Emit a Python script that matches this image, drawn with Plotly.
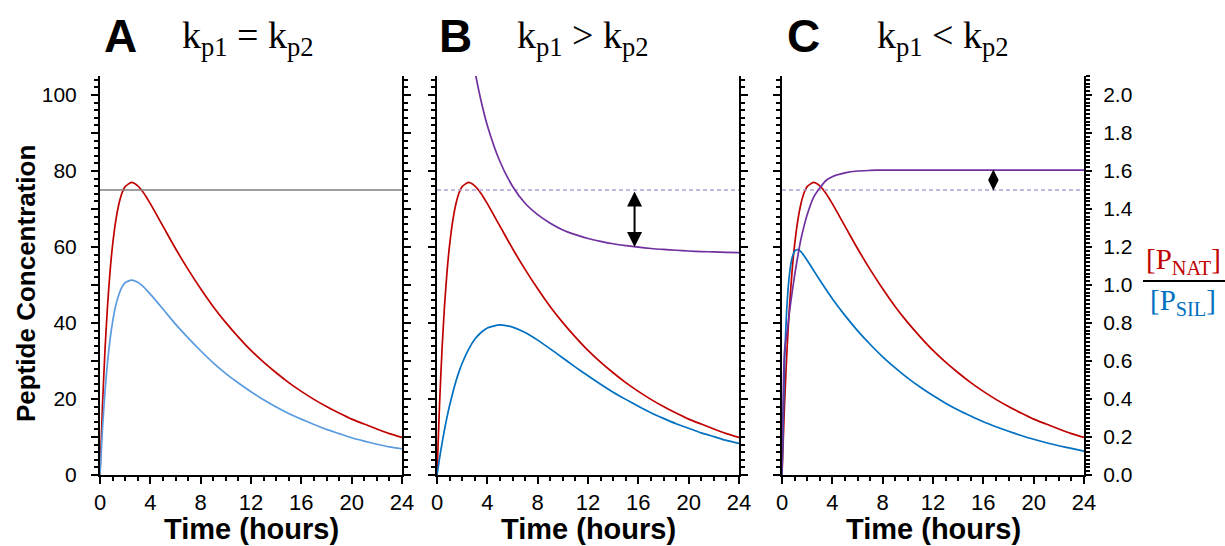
import plotly.graph_objects as go

# ---------------- data ----------------
time_h = [0, 0.2, 0.4, 0.6, 0.8, 1, 1.25, 1.5, 1.75, 2, 2.5, 3, 3.5, 4, 5, 6, 7, 8, 9,
          10, 11, 12, 13, 14, 15, 16, 17, 18, 19, 20, 21, 22, 23, 24]

nat_conc = [0, 18.5, 33.1, 44.6, 53.6, 60.5, 66.9, 71.3, 74.2, 75.9, 77.0, 76.1, 74.1, 71.4,
            65.5, 59.6, 54.1, 49.0, 44.3, 40.1, 36.3, 32.8, 29.7, 26.9, 24.3, 22.0, 19.9,
            18.0, 16.3, 14.7, 13.4, 12.1, 10.9, 9.9]

sil_conc_A = [0, 12.3, 22.1, 29.7, 35.7, 40.3, 44.6, 47.5, 49.5, 50.6, 51.3, 50.7, 49.4, 47.6,
              43.7, 39.7, 36.1, 32.7, 29.5, 26.7, 24.2, 21.9, 19.8, 17.9, 16.2, 14.7, 13.3,
              12.0, 10.9, 9.8, 8.9, 8.1, 7.4, 6.9]

sil_conc_B = [0, 4.4, 8.3, 12.0, 15.3, 18.3, 21.6, 24.6, 27.2, 29.4, 33.0, 35.7, 37.5, 38.7,
              39.5, 38.9, 37.5, 35.5, 33.2, 30.8, 28.4, 26.1, 23.9, 21.8, 19.9, 18.1, 16.4,
              14.9, 13.5, 12.3, 11.1, 10.1, 9.1, 8.3]

sil_conc_C = [0, 29.0, 44.9, 53.0, 57.1, 58.9, 59.3, 58.8, 57.7, 56.5, 53.9, 51.3, 48.8, 46.4,
              42.0, 38.0, 34.4, 31.1, 28.2, 25.5, 23.1, 20.9, 18.9, 17.1, 15.5, 14.0, 12.7,
              11.5, 10.4, 9.4, 8.5, 7.7, 7.0, 6.3]

ratio_B = [4.5, 4.2, 3.99, 3.72, 3.5, 3.31, 3.1, 2.9, 2.73, 2.58, 2.33, 2.13, 1.97, 1.84,
           1.65, 1.52, 1.43, 1.37, 1.325, 1.29, 1.265, 1.245, 1.23, 1.217, 1.207, 1.199,
           1.192, 1.187, 1.183, 1.179, 1.176, 1.174, 1.172, 1.17]

ratio_C = [0, 0.65, 0.75, 0.86, 0.96, 1.05, 1.15, 1.24, 1.31, 1.37, 1.46, 1.51, 1.55, 1.57,
           1.59, 1.60, 1.603, 1.605, 1.605, 1.605, 1.605, 1.605, 1.605, 1.605, 1.605, 1.605,
           1.605, 1.605, 1.605, 1.605, 1.605, 1.605, 1.605, 1.605]

ratio_ref = 1.5          # constant ratio (panel A line, dashed reference in B and C)
x_span = [0, 24]

arrow_B_time, arrow_B_lo, arrow_B_hi = 15.7, 1.2, 1.5
arrow_C_time, arrow_C_lo, arrow_C_hi = 16.8, 1.5, 1.605

conc_ticks = [0, 10, 20, 30, 40, 50, 60, 70, 80, 90, 100]
conc_labels = ["0", "", "20", "", "40", "", "60", "", "80", "", "100"]

# ---------------- style ----------------
RED = "#C00000"
BLUE_A = "#5B9BE0"
BLUE = "#0070C0"
PURPLE = "#7030A0"
LAVENDER = "#B3A1D6"
GRAY = "#7F7F7F"
SANS = "Liberation Sans, Arial, sans-serif"
SERIF = "Liberation Serif, Times New Roman, serif"

W, H = 1225, 546
# plot area in reference pixels: left 100, right 1084, top 76, bottom 475
ML, MT = 100, 76
MR = W - 1084
MB = H - 475
PW, PH = W - ML - MR, H - MT - MB


def px(xp):
    return (xp - ML) / PW


def py(yp):
    return (H - MB - yp) / PH


fig = go.Figure()
lw = 1.7
spl = dict(shape="spline", smoothing=0.6)

# Panel A
fig.add_trace(go.Scatter(x=time_h, y=nat_conc, mode="lines", line=dict(color=RED, width=lw, **spl), xaxis="x", yaxis="y"))
fig.add_trace(go.Scatter(x=time_h, y=sil_conc_A, mode="lines", line=dict(color=BLUE_A, width=lw, **spl), xaxis="x", yaxis="y"))
fig.add_trace(go.Scatter(x=x_span, y=[ratio_ref, ratio_ref], mode="lines", line=dict(color=GRAY, width=1.4), xaxis="x", yaxis="y4"))

# Panel B
fig.add_trace(go.Scatter(x=time_h, y=nat_conc, mode="lines", line=dict(color=RED, width=lw, **spl), xaxis="x2", yaxis="y2"))
fig.add_trace(go.Scatter(x=time_h, y=sil_conc_B, mode="lines", line=dict(color=BLUE, width=lw, **spl), xaxis="x2", yaxis="y2"))
fig.add_trace(go.Scatter(x=x_span, y=[ratio_ref, ratio_ref], mode="lines", line=dict(color=LAVENDER, width=1.4, dash="4px,3px"), xaxis="x2", yaxis="y5"))
fig.add_trace(go.Scatter(x=time_h, y=ratio_B, mode="lines", line=dict(color=PURPLE, width=lw, **spl), xaxis="x2", yaxis="y5"))

# Panel C
fig.add_trace(go.Scatter(x=time_h, y=nat_conc, mode="lines", line=dict(color=RED, width=lw, **spl), xaxis="x3", yaxis="y3"))
fig.add_trace(go.Scatter(x=time_h, y=sil_conc_C, mode="lines", line=dict(color=BLUE, width=lw, **spl), xaxis="x3", yaxis="y3"))
fig.add_trace(go.Scatter(x=x_span, y=[ratio_ref, ratio_ref], mode="lines", line=dict(color=LAVENDER, width=1.4, dash="4px,3px"), xaxis="x3", yaxis="y6"))
fig.add_trace(go.Scatter(x=time_h, y=ratio_C, mode="lines", line=dict(color=PURPLE, width=lw, **spl), xaxis="x3", yaxis="y6"))
# diamond-shaped double arrow between the reference ratio and the plateau (panel C)
fig.add_trace(go.Scatter(x=[arrow_C_time], y=[(arrow_C_lo + arrow_C_hi) / 2], mode="markers",
                         marker=dict(symbol="diamond-tall", size=15, color="black", line=dict(width=0)),
                         xaxis="x3", yaxis="y6"))

tickfont_x = dict(family=SANS, size=22, color="black")
tickfont_y = dict(family=SANS, size=21, color="black")

xbase = dict(range=[0, 24], showline=True, linecolor="black", linewidth=2, mirror=False,
             ticks="outside", ticklen=7, tickwidth=2, tickcolor="black", tickmode="linear",
             tick0=0, dtick=4, showgrid=False, zeroline=False, tickfont=tickfont_x,
             ticklabelstandoff=0,
             minor=dict(tickmode="linear", tick0=0, dtick=1, ticks="outside", ticklen=4,
                        tickwidth=2, tickcolor="black", showgrid=False))

ybase = dict(range=[0, 105], showline=True, linecolor="black", linewidth=2,
             ticks="outside", ticklen=7, tickwidth=2, tickcolor="black",
             tickmode="array", tickvals=conc_ticks, ticktext=conc_labels,
             showgrid=False, zeroline=False, tickfont=tickfont_y, ticklabelstandoff=10,
             minor=dict(tickmode="linear", tick0=0, dtick=2, ticks="outside", ticklen=4,
                        tickwidth=2, tickcolor="black", showgrid=False))

doms = [[px(100), px(402)], [px(437), px(739)], [px(782), px(1084)]]

layout = dict(
    width=W, height=H, margin=dict(l=ML, r=MR, t=MT, b=MB),
    paper_bgcolor="white", plot_bgcolor="white", showlegend=False,
    xaxis=dict(xbase, domain=doms[0], anchor="y"),
    xaxis2=dict(xbase, domain=doms[1], anchor="y2"),
    xaxis3=dict(xbase, domain=doms[2], anchor="y3"),
    yaxis=dict(ybase, domain=[0, 1], anchor="x", mirror="ticks"),
    yaxis2=dict(ybase, domain=[0, 1], anchor="x2", mirror="ticks", showticklabels=False),
    yaxis3=dict(ybase, domain=[0, 1], anchor="x3", mirror=False, showticklabels=False),
    yaxis4=dict(range=[0, 2.1], overlaying="y", anchor="x", visible=False),
    yaxis5=dict(range=[0, 2.1], overlaying="y2", anchor="x2", visible=False),
    yaxis6=dict(range=[0, 2.1], overlaying="y3", anchor="x3", side="right",
                showline=True, linecolor="black", linewidth=2, ticks="outside", ticklen=6,
                tickwidth=2, tickcolor="black", tickmode="linear", tick0=0, dtick=0.2,
                tickformat=".1f", showgrid=False, zeroline=False, tickfont=tickfont_y,
                ticklabelstandoff=7,
                minor=dict(tickmode="linear", tick0=0, dtick=0.02, ticks="outside", ticklen=4,
                           tickwidth=2, tickcolor="black", showgrid=False)),
)
fig.update_layout(**layout)

ann = []
# panel letters and conditions
for letter, cx, tx, cond in [("A", 120, 180, "="), ("B", 455, 515, "&gt;"), ("C", 803, 875, "&lt;")]:
    ann.append(dict(text="<b>%s</b>" % letter, x=px(cx), y=py(36), xref="paper", yref="paper",
                    xanchor="center", yanchor="middle", showarrow=False,
                    font=dict(family=SANS, size=46, color="black")))
    ann.append(dict(text="k<sub>p1</sub> %s k<sub>p2</sub>" % cond, x=px(tx), y=py(38),
                    xref="paper", yref="paper", xanchor="left", yanchor="middle", showarrow=False,
                    font=dict(family=SERIF, size=38, color="black")))
# x titles
for cx in [251, 588, 933]:
    ann.append(dict(text="<b>Time (hours)</b>", x=px(cx), y=py(529), xref="paper", yref="paper",
                    xanchor="center", yanchor="middle", showarrow=False,
                    font=dict(family=SANS, size=29, color="black")))
# y title
ann.append(dict(text="<b>Peptide Concentration</b>", x=px(26), y=py(284), xref="paper", yref="paper",
                xanchor="center", yanchor="middle", showarrow=False, textangle=-90,
                font=dict(family=SANS, size=26, color="black")))
# ratio label
ann.append(dict(text="[P<sub>NAT</sub>]", x=px(1183), y=py(261), xref="paper", yref="paper",
                xanchor="center", yanchor="middle", showarrow=False,
                font=dict(family=SERIF, size=29, color=RED)))
ann.append(dict(text="[P<sub>SIL</sub>]", x=px(1183), y=py(302), xref="paper", yref="paper",
                xanchor="center", yanchor="middle", showarrow=False,
                font=dict(family=SERIF, size=29, color=BLUE)))
# double arrow (panel B)
ann.append(dict(x=arrow_B_time, y=arrow_B_lo, ax=arrow_B_time, ay=arrow_B_hi, xref="x2", yref="y5",
                axref="x2", ayref="y5", text="", showarrow=True, arrowside="end+start",
                arrowhead=2, startarrowhead=2, arrowsize=1.5, startarrowsize=1.5, arrowwidth=2,
                arrowcolor="black", standoff=0, startstandoff=0))
fig.update_layout(annotations=ann)

fig.add_shape(type="line", xref="paper", yref="paper", x0=px(1143), x1=px(1225), y0=py(281), y1=py(281),
              line=dict(color="black", width=2))

fig.write_html("out.html", config={"displayModeBar": False},
               post_script="document.body.style.margin='0px';document.body.style.overflow='hidden';")
